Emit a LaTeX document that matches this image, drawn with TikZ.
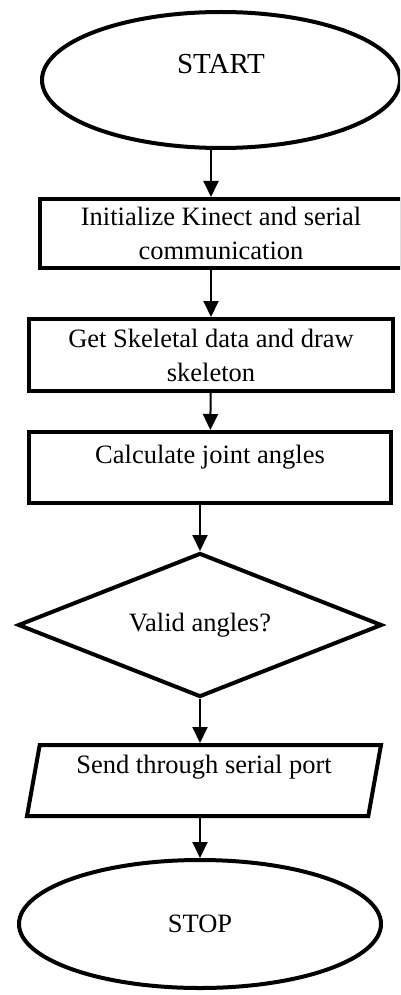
\documentclass[tikz,border=0pt]{standalone}
\usepackage{fontspec}
\setmainfont{Liberation Serif}
\usepackage{tikz}
\usetikzlibrary{shapes.geometric,arrows.meta}

\begin{document}
\begin{tikzpicture}[x=1pt, y=1pt, node distance=150pt,
    every node/.style={font=\fontsize{26.5}{34}\selectfont, line width=4pt, inner sep=0pt, align=center},
    arrow/.style={line width=2pt, -{Triangle[width=15pt,length=16pt]}}]
        \useasboundingbox (0,0) rectangle (400,-995);
        \clip (0,0) rectangle (400,-995);
        % Nodes
        \node (start) [draw, ellipse, minimum width=358pt, minimum height=136pt, text height=18pt, text depth=30pt] at (221,-80) {\fontsize{29}{34}\selectfont START};
        \node (init) [draw, rectangle, minimum width=362pt, minimum height=69pt, below of=start, node distance=153.5pt] {Initialize Kinect and serial\\communication};
        \node (skel) [draw, rectangle, minimum width=364pt, minimum height=72pt, below of=init, node distance=121.5pt, xshift=-10pt] {Get Skeletal data and draw\\skeleton};
        \node (calc) [draw, rectangle, minimum width=362pt, minimum height=71pt, text height=18pt, text depth=27pt, below of=skel, node distance=112.5pt, xshift=-1pt] {Calculate joint angles};
        \node (valid) [draw, diamond, aspect=2.5, minimum width=364pt, minimum height=144pt, below of=calc, node distance=157.5pt, xshift=-10pt] {Valid angles?};
        \node (send) [draw, trapezium, trapezium left angle=76, trapezium right angle=104, trapezium stretches body, minimum width=354pt, minimum height=71pt, text height=18pt, text depth=33pt, below of=valid, node distance=155.5pt, xshift=4pt] {Send through serial port};
        \node (stop) [draw, ellipse, minimum width=362pt, minimum height=128pt, below of=send, node distance=143.5pt, xshift=-4pt] {STOP};

        % Edges
        \draw[arrow] (start.south -| skel) -- (init.north -| skel);
        \draw[arrow] (init.south -| skel) -- (skel);
        \draw[arrow] (skel) -- (calc);
        \draw[arrow] (calc.south -| valid) -- (valid);
        \draw[arrow] (valid.south) -- (valid.south |- send.north);
        \draw[arrow] (send.south -| stop) -- (stop);
    \end{tikzpicture}
\end{document}
